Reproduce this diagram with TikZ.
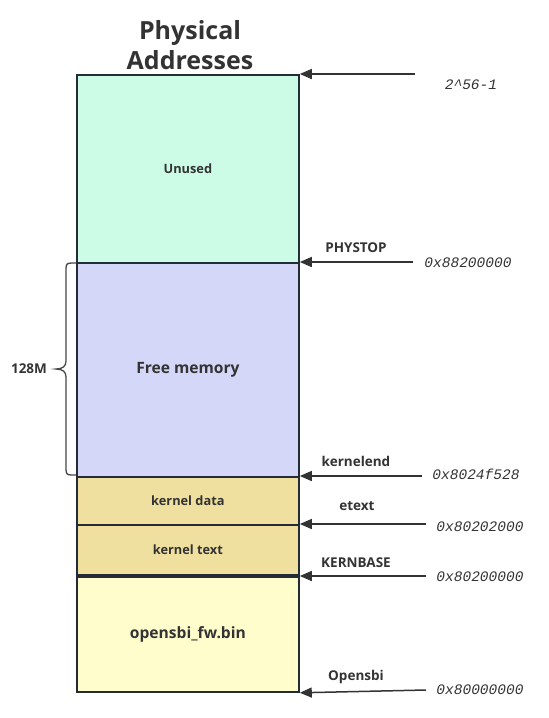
\documentclass[tikz,border=0pt]{standalone}
\usepackage{fontspec}
\setmainfont{Open Sans}
\newfontfamily\hexfont{Liberation Mono}
\usetikzlibrary{arrows.meta}
\definecolor{txt}{HTML}{333333}
\definecolor{edge}{HTML}{222B36}
\definecolor{cUnused}{HTML}{CCFCE5}
\definecolor{cFree}{HTML}{D4D7F8}
\definecolor{cKern}{HTML}{EFE0A0}
\definecolor{cSbi}{HTML}{FFFDCC}
\tikzset{
  block/.style={draw=edge, line width=1.8pt, minimum width=222pt, anchor=north west, inner sep=0pt, text=txt, font=\bfseries\fontsize{12.8}{14}\selectfont},
  ptr/.style={draw=txt, line width=1.5pt, -{Triangle[length=12pt,width=10pt]}},
  lbl/.style={text=txt, font=\bfseries\fontsize{13.5}{15}\selectfont},
  hex/.style={text=txt, font=\hexfont\itshape\fontsize{14.5}{16}\selectfont},
}
\begin{document}
\begin{tikzpicture}[x=1pt,y=-1pt]
\useasboundingbox (0,0) rectangle (549,718);
% title
\node[text=txt, font=\bfseries\fontsize{25}{30}\selectfont, align=center] (title) at (190,45) {Physical\\Addresses};
% blocks
\node[block, fill=cUnused, minimum height=188pt] (unused) at (76,74) {Unused};
\node[block, fill=cFree, minimum height=214pt, font=\bfseries\fontsize{15.6}{18}\selectfont] (free) at (76,262) {Free memory};
\node[block, fill=cKern, minimum height=48pt] (kdata) at (76,476) {kernel data};
\node[block, fill=cKern, minimum height=50pt] (ktext) at (76,524) {kernel text};
\node[block, fill=cSbi, minimum height=115pt, font=\bfseries\fontsize{15.6}{18}\selectfont] (sbi) at (76,576) {opensbi\_fw.bin};
% arrow tails
\coordinate (t1) at (415,74);
\coordinate (t2) at (413,262);
\coordinate (t3) at (422,476);
\coordinate (t4) at (426,524);
\coordinate (t5) at (426,576);
\coordinate (t6) at (426,690);
\draw[ptr] (t1) -- (unused.north east);
\draw[ptr] (t2) -- (free.north east);
\draw[ptr] (t3) -- (kdata.north east);
\draw[ptr] (t4) -- (ktext.north east);
\draw[ptr] (t5) -- (sbi.north east);
\draw[ptr] (t6) -- (sbi.south east);
% labels
\node[lbl] (l2) at (356,248) {PHYSTOP};
\node[lbl] (l3) at (356,461) {kernelend};
\node[lbl] (l4) at (357,506) {etext};
\node[lbl] (l5) at (356,563) {KERNBASE};
\node[lbl] (l6) at (356,677) {Opensbi};
\node[hex] (h1) at (471,85) {2\textasciicircum56-1};
\node[hex] (h2) at (468,263) {0x88200000};
\node[hex] (h3) at (476,474) {0x8024f528};
\node[hex] (h4) at (480,527) {0x80202000};
\node[hex] (h5) at (480,577) {0x80200000};
\node[hex] (h6) at (480,690) {0x80000000};
% brace
\draw[draw=txt!90, line width=1.3pt] (76,263) -- (72,263) .. controls (67,263) and (66,264) .. (66,269) -- (66,361) .. controls (66,366) and (63,369) .. (56,369) .. controls (63,369) and (66,372) .. (66,377) -- (66,469) .. controls (66,474) and (67,475) .. (72,475) -- (76,475);
\node[lbl, font=\bfseries\fontsize{13.5}{15}\selectfont] (m) at (29,369) {128M};
\end{tikzpicture}
\end{document}
